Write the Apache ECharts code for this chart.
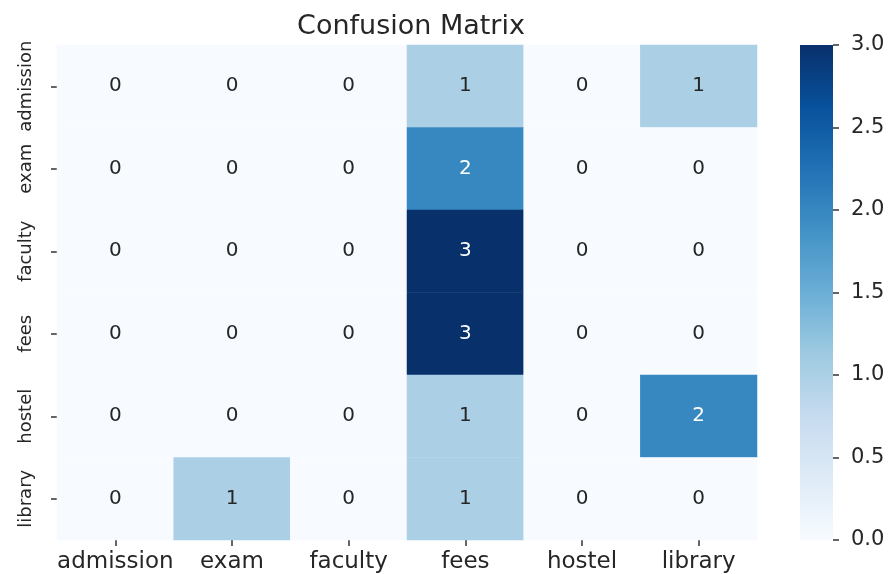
<!DOCTYPE html>
<html>
<head>
<meta charset="utf-8">
<script src="https://cdn.jsdelivr.net/npm/echarts@6/dist/echarts.min.js"></script>
<style>
    html, body { margin: 0; padding: 0; background: #fff; }
    #confusionMatrixChart { width: 891px; height: 574px; }
</style>
</head>
<body>
<div id="confusionMatrixChart"></div>
<script>
    // 类别 (true rows / predicted columns)
    const labels = ['admission', 'exam', 'faculty', 'fees', 'hostel', 'library'];
    // 每行一个真实类别
    const matrix = [
        [0, 0, 0, 1, 0, 1],
        [0, 0, 0, 2, 0, 0],
        [0, 0, 0, 3, 0, 0],
        [0, 0, 0, 3, 0, 0],
        [0, 0, 0, 1, 0, 2],
        [0, 1, 0, 1, 0, 0]
    ];
    const colorbarTicks = [0, 0.5, 1.0, 1.5, 2.0, 2.5, 3.0];
    // matplotlib Blues
    const blues = ['#f7fbff', '#deebf7', '#c6dbef', '#9ecae1', '#6baed6', '#4292c6', '#2171b5', '#08519c', '#08306b'];

    const cmMin = colorbarTicks[0];
    const cmMax = colorbarTicks[colorbarTicks.length - 1];
    const font = 'DejaVu Sans';
    const textColor = '#262626';

    let heatData = [];
    matrix.forEach((row, i) => {
        row.forEach((v, j) => {
            // 深色格子用白色字
            heatData.push({
                value: [j, i, v],
                label: {color: v >= 2 ? '#ffffff' : textColor, fontSize: 20, fontFamily: font}
            });
        });
    });

    // 色条从上(深)到下(浅)
    const gradStops = blues.map((c, i) => ({offset: i / (blues.length - 1), color: blues[blues.length - 1 - i]}));

    const option = {
        backgroundColor: '#fff',
        animation: false,
        title: {
            text: 'Confusion Matrix',
            left: 406,
            top: 8,
            textAlign: 'center',
            textStyle: {fontFamily: font, fontSize: 27, fontWeight: 'normal', color: textColor}
        },
        grid: [
            {left: 57, right: 134, top: 45, bottom: 34},
            {left: 800, width: 33, top: 45, bottom: 34}
        ],
        xAxis: [{
            type: 'category',
            data: labels,
            gridIndex: 0,
            axisLine: {show: false},
            axisTick: {show: true, alignWithLabel: true, length: 6, lineStyle: {color: '#333', width: 1.5}},
            axisLabel: {fontFamily: font, fontSize: 23, color: textColor, margin: 11, interval: 0},
            splitLine: {show: false}
        }, {
            type: 'category',
            data: ['cb'],
            gridIndex: 1,
            show: false
        }],
        yAxis: [{
            type: 'category',
            data: labels,
            inverse: true,
            gridIndex: 0,
            axisLine: {show: false},
            axisTick: {show: true, alignWithLabel: true, length: 6, lineStyle: {color: '#333', width: 1.5}},
            axisLabel: {fontFamily: font, fontSize: 18, color: textColor, rotate: 90, margin: 22, interval: 0},
            splitLine: {show: false}
        }, {
            type: 'value',
            gridIndex: 1,
            position: 'right',
            min: cmMin,
            max: cmMax,
            interval: 0.5,
            axisLine: {show: false},
            axisTick: {show: true, length: 6, lineStyle: {color: '#333', width: 1.5}},
            axisLabel: {
                fontFamily: font, fontSize: 21, color: textColor, margin: 18,
                formatter: v => v.toFixed(1)
            },
            splitLine: {show: false}
        }],
        visualMap: {
            show: false,
            type: 'continuous',
            seriesIndex: 0,
            dimension: 2,
            min: cmMin,
            max: cmMax,
            inRange: {color: blues}
        },
        series: [{
            type: 'heatmap',
            xAxisIndex: 0,
            yAxisIndex: 0,
            data: heatData,
            silent: true,
            label: {
                show: true,
                fontFamily: font,
                fontSize: 20,
                formatter: p => String(p.value[2])
            },
            itemStyle: {borderWidth: 0}
        }, {
            // 色条
            type: 'bar',
            xAxisIndex: 1,
            yAxisIndex: 1,
            data: [cmMax],
            barWidth: '100%',
            silent: true,
            itemStyle: {color: new echarts.graphic.LinearGradient(0, 0, 0, 1, gradStops)}
        }]
    };

    const myChart = echarts.init(document.getElementById('confusionMatrixChart'));
    myChart.setOption(option);
</script>
</body>
</html>
